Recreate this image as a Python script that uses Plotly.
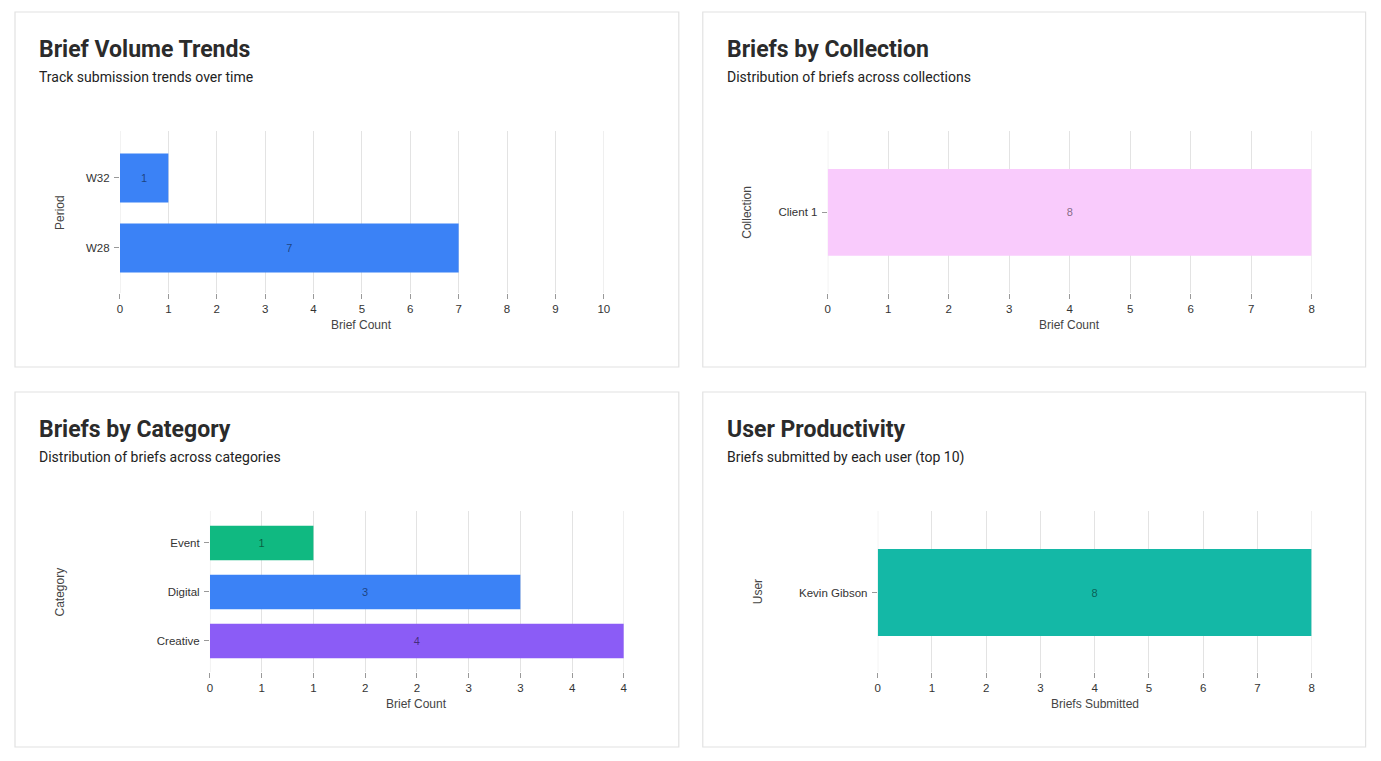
import plotly.graph_objects as go

# page has an 8px body margin; keep the figure inside the window
W, H = 1365, 745
SX, BX = 0.9937, 10.0   # observed horizontal mapping: screen_x = SX * fig_x + BX
BY = 8.0                # observed vertical mapping: screen_y = fig_y + BY

# ---- data ----
period_labels = ["W28", "W32"]
period_counts = [7, 1]

collection_labels = ["Client 1"]
collection_counts = [8]

category_labels = ["Creative", "Digital", "Event"]
category_counts = [4, 3, 1]
category_colors = ["#8b5cf6", "#3b82f6", "#10b981"]

user_labels = ["Kevin Gibson"]
user_counts = [8]

cat_tickvals = [0, 0.5, 1, 1.5, 2, 2.5, 3, 3.5, 4]
cat_ticktext = ["0", "1", "1", "2", "2", "3", "3", "4", "4"]

x_max = [10, 8, 4, 8]

titles = ["Brief Volume Trends", "Briefs by Collection", "Briefs by Category", "User Productivity"]
subtitles = ["Track submission trends over time", "Distribution of briefs across collections",
             "Distribution of briefs across categories", "Briefs submitted by each user (top 10)"]
x_titles = ["Brief Count", "Brief Count", "Brief Count", "Briefs Submitted"]
y_titles = ["Period", "Collection", "Category", "User"]


def px_x(v):
    return ((v - BX) / SX) / W


def px_y(v):
    return 1 - (v - BY) / H


fig = go.Figure()

# target areas in screen pixels: x0, x1, y0(top), y1(bottom)
areas = [
    (119, 603, 131, 293),
    (827, 1311, 131, 293),
    (209, 623, 511, 672),
    (877, 1311, 511, 672),
]
cards = [(14, 678, 12, 367), (702, 1365, 12, 367), (14, 678, 392, 747), (702, 1365, 392, 747)]

txtfont = dict(family="Liberation Sans, Arial, sans-serif", size=11, color="rgba(0,0,0,0.5)")

fig.add_trace(go.Bar(x=period_counts, y=period_labels, orientation="h", width=0.7,
                     marker=dict(color="#3b82f6", line=dict(width=0)),
                     text=period_counts, textposition="inside", insidetextanchor="middle",
                     textfont=txtfont, xaxis="x", yaxis="y", hoverinfo="skip"))
fig.add_trace(go.Bar(x=collection_counts, y=collection_labels, orientation="h", width=0.7,
                     marker=dict(color="#f9cbfc", line=dict(width=0)),
                     text=collection_counts, textposition="inside", insidetextanchor="middle",
                     textfont=txtfont, xaxis="x2", yaxis="y2", hoverinfo="skip"))
fig.add_trace(go.Bar(x=category_counts, y=category_labels, orientation="h", width=0.7,
                     marker=dict(color=category_colors, line=dict(width=0)),
                     text=category_counts, textposition="inside", insidetextanchor="middle",
                     textfont=txtfont, xaxis="x3", yaxis="y3", hoverinfo="skip"))
fig.add_trace(go.Bar(x=user_counts, y=user_labels, orientation="h", width=0.7,
                     marker=dict(color="#14b8a6", line=dict(width=0)),
                     text=user_counts, textposition="inside", insidetextanchor="middle",
                     textfont=txtfont, xaxis="x4", yaxis="y4", hoverinfo="skip"))

tickfont = dict(family="Liberation Sans, Arial, sans-serif", size=11.5, color="#333")
GRID = "#e3e3e3"
yranges = [[-0.643, 1.671], [-0.65, 0.657], [-0.633, 2.653], [-0.64, 0.657]]

layout = dict(
    width=W, height=H, margin=dict(l=0, r=0, t=0, b=0),
    paper_bgcolor="white", plot_bgcolor="rgba(0,0,0,0)",
    showlegend=False, bargap=0.3,
)

shapes = []
for (cx0, cx1, cy0, cy1) in cards:
    shapes.append(dict(type="rect", xref="paper", yref="paper",
                       x0=px_x(cx0), x1=px_x(cx1), y0=px_y(cy1), y1=px_y(cy0),
                       line=dict(color="#e2e2e2", width=1.2), fillcolor="white", layer="below"))

for i, (x0, x1, y0, y1) in enumerate(areas):
    sfx = "" if i == 0 else str(i + 1)
    xa = dict(domain=[px_x(x0), px_x(x1)], anchor="y" + sfx, range=[0, x_max[i]],
              showgrid=True, gridcolor=GRID, gridwidth=1, zeroline=False,
              showline=False, ticks="outside", ticklen=5, tickcolor="#999", tickwidth=1,
              tickfont=tickfont, fixedrange=True)
    if i == 2:
        xa.update(tickmode="array", tickvals=cat_tickvals, ticktext=cat_ticktext)
    else:
        xa.update(dtick=1, tick0=0)
    ya = dict(domain=[px_y(y1), px_y(y0)], anchor="x" + sfx, range=yranges[i],
              type="category", showgrid=False, zeroline=False, showline=False,
              ticks="outside", ticklen=5, tickcolor="#999", tickwidth=1,
              ticklabelstandoff=2, tickfont=tickfont, fixedrange=True)
    layout["xaxis" + sfx] = xa
    layout["yaxis" + sfx] = ya
    # gridlines at the two range edges (plotly skips them)
    for xv in (0, x_max[i]):
        shapes.append(dict(type="line", xref="x" + sfx, yref="y" + sfx + " domain",
                           x0=xv, x1=xv, y0=0, y1=1, line=dict(color=GRID, width=1),
                           layer="below"))

layout["shapes"] = shapes

ann = []
axfont = dict(family="Liberation Sans, Arial, sans-serif", size=12, color="#444")
ytitle_x = [59, 746, 59, 757]
for i, (x0, x1, y0, y1) in enumerate(areas):
    cx0, cx1, cy0, cy1 = cards[i]
    ann.append(dict(text="<b>" + titles[i] + "</b>", xref="paper", yref="paper",
                    x=px_x(cx0 + 22), y=px_y(cy0 + 37), xanchor="left", yanchor="middle",
                    showarrow=False, font=dict(family="Roboto, sans-serif", size=23, color="#2b2b2b")))
    ann.append(dict(text=subtitles[i], xref="paper", yref="paper",
                    x=px_x(cx0 + 22), y=px_y(cy0 + 65), xanchor="left", yanchor="middle",
                    showarrow=False, font=dict(family="Roboto, sans-serif", size=14, color="#222")))
    ann.append(dict(text=x_titles[i], xref="paper", yref="paper",
                    x=px_x((x0 + x1) / 2), y=px_y(y1 + 32), xanchor="center", yanchor="middle",
                    showarrow=False, font=axfont))
    ann.append(dict(text=y_titles[i], xref="paper", yref="paper",
                    x=px_x(ytitle_x[i]), y=px_y((y0 + y1) / 2), xanchor="center", yanchor="middle",
                    textangle=-90, showarrow=False, font=axfont))
layout["annotations"] = ann

fig.update_layout(**layout)
fig.write_html("out.html", config={"displayModeBar": False})
